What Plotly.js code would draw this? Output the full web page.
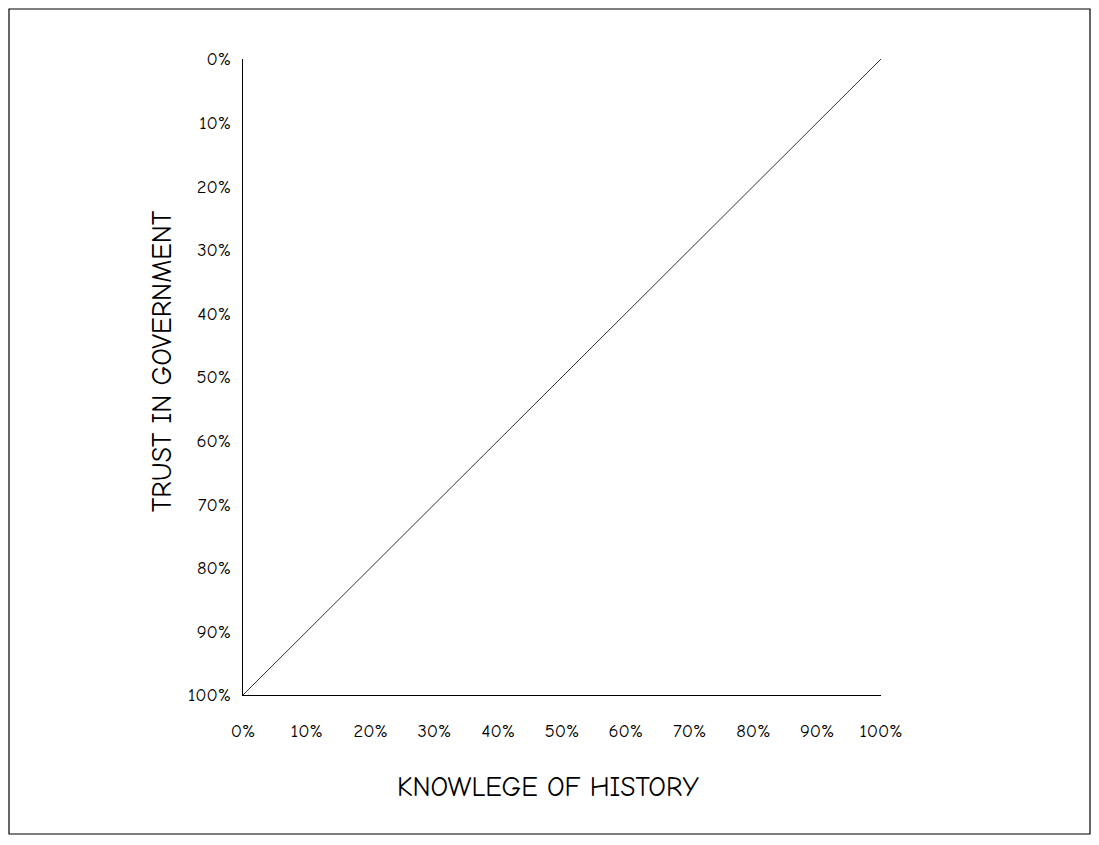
<!DOCTYPE html>
<html>
<head>
<meta charset="utf-8">
<script src="https://cdn.plot.ly/plotly-3.0.1.min.js"></script>
<style>html,body{margin:0;padding:0;background:#fff;}#chart{width:1099px;height:845px;}</style>
</head>
<body>
<div id="chart"></div>
<script>
// Data
const knowledge = [0, 1];      // Knowledge of history (fraction)
const trust = [1, 0];          // Trust in government (fraction)
const tickValues = [0, 0.1, 0.2, 0.3, 0.4, 0.5, 0.6, 0.7, 0.8, 0.9, 1];
const tickLabels = ["0%", "10%", "20%", "30%", "40%", "50%", "60%", "70%", "80%", "90%", "100%"];
const xTitle = "KNOWLEGE OF HISTORY";
const yTitle = "TRUST IN GOVERNMENT";

const FONT = '"Comic Sans MS", "Humor Sans", "Comic Neue", "DejaVu Sans", sans-serif';

const trace = {
  x: knowledge,
  y: trust,
  type: 'scatter',
  mode: 'lines',
  line: {color: '#333333', width: 1},
  hoverinfo: 'skip'
};

const W = 638, H = 636, L = 243, T = 59;
const layout = {
  width: 1099, height: 845,
  margin: {l: L, r: 1099 - L - W, t: T, b: 845 - T - H, pad: 0},
  paper_bgcolor: '#ffffff',
  plot_bgcolor: '#ffffff',
  showlegend: false,
  font: {family: FONT, color: '#000', size: 18},
  xaxis: {
    range: [0, 1],
    tickvals: tickValues, ticktext: tickLabels,
    showgrid: false, zeroline: false,
    showline: true, linecolor: '#000', linewidth: 1.2,
    ticks: '', ticklabelstandoff: 19,
    tickfont: {family: FONT, size: 18.5, color: '#000'}
  },
  yaxis: {
    range: [1, 0],
    tickvals: tickValues, ticktext: tickLabels,
    showgrid: false, zeroline: false,
    showline: true, linecolor: '#000', linewidth: 1.2,
    ticks: '', ticklabelstandoff: 7,
    tickfont: {family: FONT, size: 18.5, color: '#000'}
  },
  annotations: [
    {text: xTitle, xref: 'paper', yref: 'paper', x: (548 - L) / W, y: (T + H - 787) / H,
     xanchor: 'center', yanchor: 'middle', showarrow: false,
     font: {family: FONT, size: 27.5, color: '#000'}},
    {text: yTitle, xref: 'paper', yref: 'paper', x: (162 - L) / W, y: (T + H - 361) / H,
     xanchor: 'center', yanchor: 'middle', showarrow: false, textangle: -90,
     font: {family: FONT, size: 27.5, color: '#000'}}
  ],
  shapes: [{
    type: 'rect', xref: 'paper', yref: 'paper',
    x0: (9 - L) / W, x1: (1090 - L) / W,
    y0: (T + H - 834) / H, y1: (T + H - 9) / H,
    line: {color: '#000', width: 1.2}, fillcolor: 'rgba(0,0,0,0)', layer: 'below'
  }]
};

Plotly.newPlot('chart', [trace], layout, {displayModeBar: false, staticPlot: true});
</script>
</body>
</html>
